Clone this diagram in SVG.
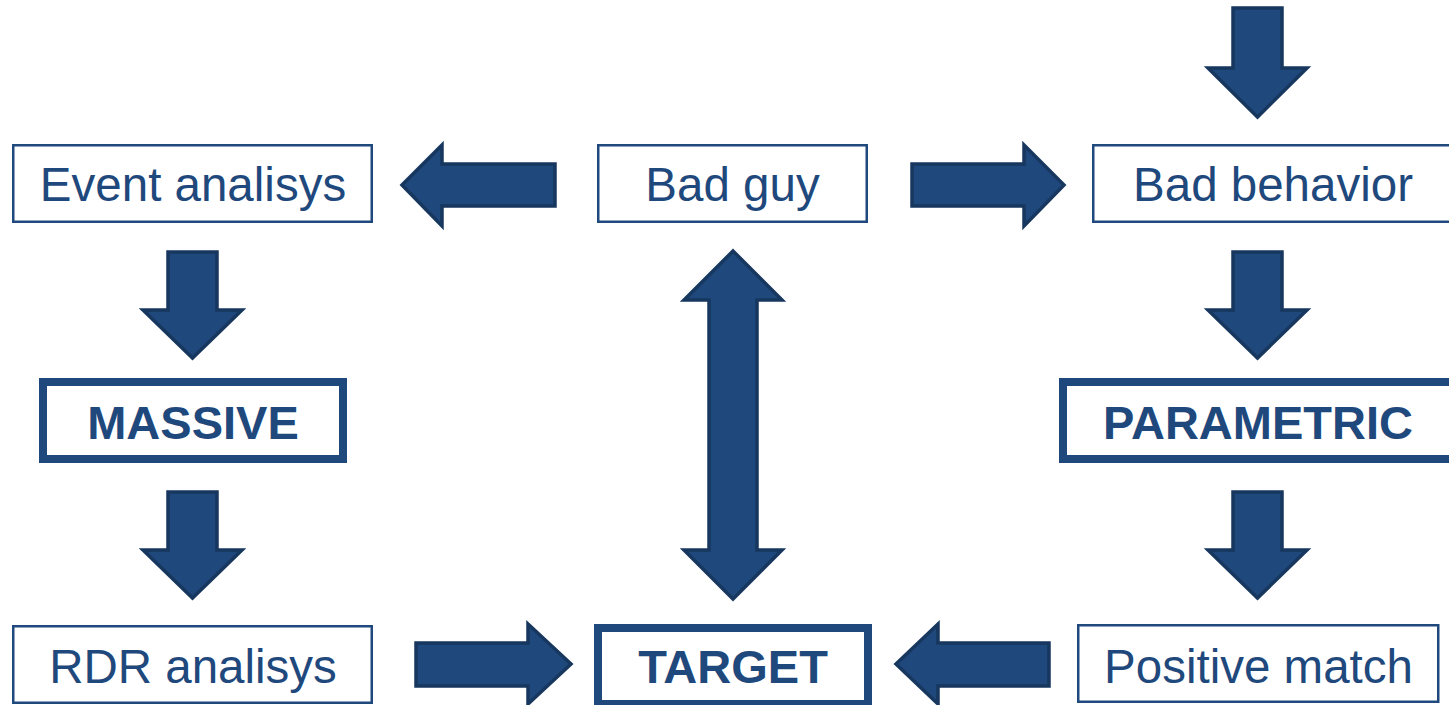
<svg xmlns="http://www.w3.org/2000/svg" width="1449" height="705" viewBox="0 0 1449 705">
<style>
.box{fill:#fff;stroke:#1F497D;stroke-width:2.5}
.tbox{fill:#fff;stroke:#1F497D;stroke-width:8}
.lbl{font-family:"Liberation Sans",Arial,sans-serif;font-size:47.5px;fill:#1F497D;text-anchor:middle}
.b{font-weight:bold;font-size:47px}
.arr{fill:#1F497D;stroke:#17375E;stroke-width:3.5;stroke-linejoin:miter}
</style>
<rect width="1449" height="705" fill="#fff"/>
<g id="connectors">
<polygon class="arr" points="1233,8 1282,8 1282,68 1307,68 1257.5,117 1208,68 1233,68"/>
<polygon class="arr" points="402,185 442,145 442,164 555,164 555,206 442,206 442,226"/>
<polygon class="arr" points="912,164 1024,164 1024,145 1064,185 1024,226 1024,206 912,206"/>
<polygon class="arr" points="168,252 217,252 217,310 242,310 192.5,358 143,310 168,310"/>
<polygon class="arr" points="168,492 217,492 217,550 242,550 192.5,598 143,550 168,550"/>
<polygon class="arr" points="1233,252 1282,252 1282,310 1307,310 1257.5,358 1208,310 1233,310"/>
<polygon class="arr" points="1233,492 1282,492 1282,550 1307,550 1257.5,598 1208,550 1233,550"/>
<polygon class="arr" points="733,251 782,300 757,300 757,550 782,550 733,599 684,550 709,550 709,300 684,300"/>
<polygon class="arr" points="416,643 528,643 528,624 571,664 528,704 528,686 416,686"/>
<polygon class="arr" points="1049,643 938,643 938,624 896,664 938,704 938,686 1049,686"/>
</g>
<g id="event-analisys"><rect class="box" x="13.25" y="145.25" width="358.5" height="76.5"/><text class="lbl" x="193" y="201">Event analisys</text></g>
<g id="bad-guy"><rect class="box" x="598.25" y="145.25" width="268.5" height="76.5"/><text class="lbl" x="732.5" y="201">Bad guy</text></g>
<g id="bad-behavior"><rect class="box" x="1093.25" y="145.25" width="360" height="76.5"/><text class="lbl" x="1273" y="201">Bad behavior</text></g>
<g id="massive"><rect class="tbox" x="43" y="382" width="300" height="77"/><text class="lbl b" x="193" y="439">MASSIVE</text></g>
<g id="parametric"><rect class="tbox" x="1063" y="382" width="392" height="77"/><text class="lbl b" x="1258" y="439">PARAMETRIC</text></g>
<g id="rdr-analisys"><rect class="box" x="13.25" y="626.25" width="358.5" height="76.5"/><text class="lbl" x="193" y="683">RDR analisys</text></g>
<g id="target"><rect class="tbox" x="598" y="628" width="270" height="76"/><text class="lbl b" x="733" y="683">TARGET</text></g>
<g id="positive-match"><rect class="box" x="1078.25" y="625.25" width="360" height="76.5"/><text class="lbl" x="1258.5" y="683">Positive match</text></g>
</svg>
